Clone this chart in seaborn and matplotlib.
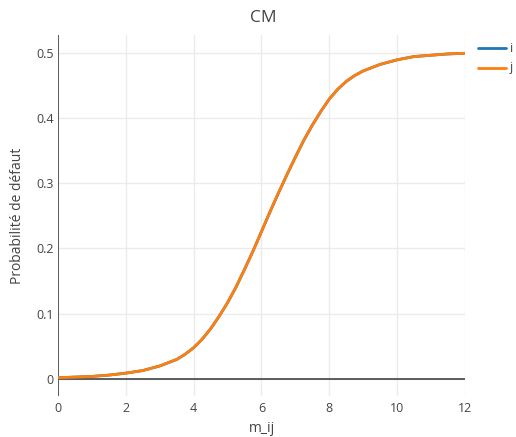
import numpy as np
import pandas as pd
import matplotlib
matplotlib.use("Agg")
import matplotlib.pyplot as plt
import seaborn as sns

# Data
m_ij = [0, 0.5, 1, 1.5, 2, 2.5, 3, 3.5, 3.75, 4, 4.25, 4.5, 4.75, 5, 5.25, 5.5, 5.75,
        6, 6.25, 6.5, 6.75, 7, 7.25, 7.5, 7.75, 8, 8.25, 8.5, 8.75, 9, 9.5,
        10, 10.5, 11, 11.5, 12]
prob_i = [0.002, 0.003, 0.004, 0.006, 0.009, 0.013, 0.020, 0.030, 0.038, 0.048, 0.061,
          0.077, 0.096, 0.117, 0.141, 0.168, 0.196, 0.226, 0.256, 0.285, 0.313,
          0.340, 0.366, 0.389, 0.410, 0.429, 0.444, 0.456, 0.465, 0.472, 0.482,
          0.489, 0.494, 0.496, 0.498, 0.499]
prob_j = [0.002, 0.003, 0.004, 0.006, 0.009, 0.013, 0.020, 0.030, 0.038, 0.048, 0.061,
          0.077, 0.096, 0.117, 0.141, 0.168, 0.196, 0.226, 0.256, 0.285, 0.313,
          0.340, 0.366, 0.389, 0.410, 0.429, 0.444, 0.456, 0.465, 0.472, 0.482,
          0.489, 0.494, 0.496, 0.498, 0.499]
series_names = ["i", "j"]
x_ticks = [0, 2, 4, 6, 8, 10, 12]
y_ticks = [0, 0.1, 0.2, 0.3, 0.4, 0.5]

df = pd.concat([
    pd.DataFrame({"m_ij": m_ij, "p": prob_i, "s": series_names[0]}),
    pd.DataFrame({"m_ij": m_ij, "p": prob_j, "s": series_names[1]}),
])

sns.set_theme(style="white")
plt.rcParams["font.family"] = ["Open Sans", "DejaVu Sans"]

fig = plt.figure(figsize=(5.16, 4.37), dpi=100)
ax = fig.add_axes([58 / 516, 41 / 437, (465 - 58) / 516, (396 - 35) / 437])

palette = {"i": "#1f77b4", "j": "#ff7f0e"}
sns.lineplot(data=df, x="m_ij", y="p", hue="s", palette=palette, ax=ax,
             linewidth=2, legend=False, sort=False,
             solid_joinstyle="round", solid_capstyle="round")

ax.set_xlim(0, 12)
ax.set_ylim(-0.026, 0.527)
ax.set_xticks(x_ticks)
ax.set_xticklabels([str(t) for t in x_ticks])
ax.set_yticks(y_ticks)
ax.set_yticklabels(["0", "0.1", "0.2", "0.3", "0.4", "0.5"])
ax.grid(True, color="#ebebeb", linewidth=1)
ax.set_axisbelow(True)
for sp in ax.spines.values():
    sp.set_visible(False)
ax.axhline(0, color="#444444", linewidth=1.2, zorder=1.5)
ax.axvline(0, color="#444444", linewidth=1.2, zorder=1.5)
ax.tick_params(axis="both", length=0, labelsize=9, labelcolor="#444444")
ax.tick_params(axis="x", pad=4)
ax.tick_params(axis="y", pad=3)

ax.set_xlabel("m_ij", fontsize=10, color="#444444", labelpad=5)
ax.set_ylabel("Probabilité de défaut", fontsize=10, color="#444444", labelpad=8)
fig.text(263 / 516, 1 - 18 / 437, "CM", ha="center", va="center",
         fontsize=12.5, color="#444444")

# legend
for k, (name, yy) in enumerate(zip(series_names, [48, 68])):
    fig.add_artist(plt.Line2D([478 / 516, 506 / 516], [1 - yy / 437, 1 - yy / 437],
                              color=palette[name], linewidth=2))
    fig.text(510 / 516, 1 - yy / 437, name, ha="left", va="center",
             fontsize=9, color="#444444")

fig.savefig("out.png", dpi=100)
